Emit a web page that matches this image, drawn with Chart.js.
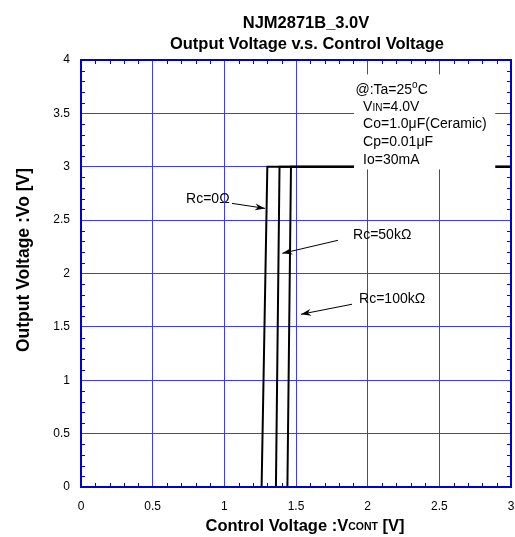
<!DOCTYPE html>
<html>
<head>
<meta charset="utf-8">
<script src="https://cdn.jsdelivr.net/npm/chart.js@4/dist/chart.umd.min.js"></script>
<style>
  body { margin: 0; background: #fff; }
  #wrap { width: 515px; height: 537px; }
</style>
</head>
<body>
<div id="wrap"><canvas id="myChart" width="515" height="537"></canvas></div>
<script>
// curves: Vcont [V] vs Vo [V]
const rc0X = [1.26, 1.30, 3.0];
const rc0Y = [0, 3.0, 3.0];
const rc50X = [1.36, 1.385, 3.0];
const rc50Y = [0, 3.0, 3.0];
const rc100X = [1.44, 1.465, 3.0];
const rc100Y = [0, 3.0, 3.0];

const xTicks = [0, 0.5, 1, 1.5, 2, 2.5, 3];
const yTicks = [0, 0.5, 1, 1.5, 2, 2.5, 3, 3.5, 4];

const FONT = "Arial, 'Liberation Sans', sans-serif";
const GRID = '#3a3aff';
const FRAME = '#0000d0';

function toPoints(xs, ys) {
    return xs.map((x, i) => ({ x: x, y: ys[i] }));
}

function lineSet(label, xs, ys) {
    return {
        label: label,
        data: toPoints(xs, ys),
        showLine: true,
        borderColor: '#000',
        borderWidth: 2,
        pointRadius: 0,
        tension: 0,
    };
}

function arrow(ctx, x1, y1, x2, y2) {
    ctx.save();
    ctx.strokeStyle = '#000';
    ctx.fillStyle = '#000';
    ctx.lineWidth = 1;
    ctx.beginPath();
    ctx.moveTo(x1, y1);
    ctx.lineTo(x2, y2);
    ctx.stroke();
    const a = Math.atan2(y2 - y1, x2 - x1);
    const len = 10, w = 3.5;
    ctx.translate(x2, y2);
    ctx.rotate(a);
    ctx.beginPath();
    ctx.moveTo(0, 0);
    ctx.lineTo(-len, -w);
    ctx.lineTo(-len * 0.7, 0);
    ctx.lineTo(-len, w);
    ctx.closePath();
    ctx.fill();
    ctx.restore();
}

// draw pieces of text one after another, some of them smaller
function pieces(ctx, x, y, parts) {
    let cx = x;
    for (const p of parts) {
        ctx.font = p.font;
        ctx.fillText(p.t, cx, y + (p.dy || 0));
        cx += ctx.measureText(p.t).width;
    }
    return cx;
}

const decor = {
    id: 'decor',
    afterDatasetsDraw(chart) {
        const ctx = chart.ctx;
        const xs = chart.scales.x, ys = chart.scales.y;
        const X = v => xs.getPixelForValue(v);
        const Y = v => ys.getPixelForValue(v);

        // condition box
        ctx.save();
        ctx.fillStyle = '#fff';
        ctx.fillRect(X(1.905), Y(3.865), X(2.89) - X(1.905), Y(2.975) - Y(3.865));
        ctx.fillStyle = '#000';
        ctx.textBaseline = 'middle';
        ctx.textAlign = 'left';
        const f = '14px ' + FONT, fs = '10px ' + FONT;
        pieces(ctx, X(1.915), Y(3.719), [{ t: '@:Ta=25', font: f }, { t: 'o', font: fs, dy: -5 }, { t: 'C', font: f }]);
        pieces(ctx, X(1.968), Y(3.56), [{ t: 'V', font: f }, { t: 'IN', font: fs, dy: 1 }, { t: '=4.0V', font: f }]);
        ctx.font = f;
        ctx.fillText('Co=1.0\u03bcF(Ceramic)', X(1.968), Y(3.40));
        ctx.fillText('Cp=0.01\u03bcF', X(1.968), Y(3.232));
        ctx.fillText('Io=30mA', X(1.968), Y(3.063));

        // curve labels
        ctx.fillText('Rc=0\u03a9', X(0.733), Y(2.70));
        ctx.fillText('Rc=50k\u03a9', X(1.898), Y(2.357));
        ctx.fillText('Rc=100k\u03a9', X(1.94), Y(1.759));
        ctx.restore();

        arrow(ctx, X(1.053), Y(2.657), X(1.284), Y(2.61));
        arrow(ctx, X(1.793), Y(2.311), X(1.405), Y(2.189));
        arrow(ctx, X(1.891), Y(1.712), X(1.535), Y(1.618));
    },
    afterDraw(chart) {
        const ctx = chart.ctx;
        const a = chart.chartArea;
        const xs = chart.scales.x, ys = chart.scales.y;
        ctx.save();

        // minor ticks on all four sides, every 0.1
        ctx.strokeStyle = FRAME;
        ctx.lineWidth = 1;
        ctx.beginPath();
        for (let i = 1; i < 30; i++) {
            if (i % 5 === 0) continue;
            const px = Math.round(xs.getPixelForValue(i / 10)) + 0.5;
            ctx.moveTo(px, a.bottom); ctx.lineTo(px, a.bottom - 4);
            ctx.moveTo(px, a.top); ctx.lineTo(px, a.top + 4);
        }
        for (let i = 1; i < 40; i++) {
            if (i % 5 === 0) continue;
            const py = Math.round(ys.getPixelForValue(i / 10)) + 0.5;
            ctx.moveTo(a.left, py); ctx.lineTo(a.left + 4, py);
            ctx.moveTo(a.right, py); ctx.lineTo(a.right - 4, py);
        }
        ctx.stroke();

        // frame
        ctx.lineWidth = 2;
        ctx.strokeRect(a.left, a.top, a.right - a.left, a.bottom - a.top);

        // titles
        ctx.fillStyle = '#000';
        ctx.textAlign = 'center';
        ctx.textBaseline = 'middle';
        ctx.font = 'bold 16.5px ' + FONT;
        ctx.fillText('NJM2871B_3.0V', 306, 23);
        ctx.fillText('Output Voltage v.s. Control Voltage', 307, 44);

        // x axis title with small "CONT"
        ctx.textAlign = 'left';
        const fb = 'bold 16.5px ' + FONT, fbs = 'bold 10.5px ' + FONT;
        const parts = [{ t: 'Control Voltage :V', font: fb }, { t: 'CONT', font: fbs, dy: 1 }, { t: ' [V]', font: fb }];
        let w = 0;
        for (const p of parts) { ctx.font = p.font; w += ctx.measureText(p.t).width; }
        pieces(ctx, 305 - w / 2, 526, parts);

        // y axis title
        ctx.translate(24, 260);
        ctx.rotate(-Math.PI / 2);
        ctx.textAlign = 'center';
        ctx.font = 'bold 17.5px ' + FONT;
        ctx.fillText('Output Voltage :Vo [V]', 0, 0);
        ctx.restore();
    }
};

const ctx = document.getElementById('myChart');
const myGraph = new Chart(ctx, {
    type: 'scatter',
    data: {
        datasets: [
            lineSet('Rc=0', rc0X, rc0Y),
            lineSet('Rc=50k', rc50X, rc50Y),
            lineSet('Rc=100k', rc100X, rc100Y),
        ]
    },
    options: {
        responsive: false,
        animation: false,
        layout: { padding: { top: 60, right: 4, left: 0, bottom: 0 } },
        plugins: {
            legend: { display: false },
            tooltip: { enabled: false },
        },
        scales: {
            x: {
                type: 'linear',
                min: 0,
                max: 3,
                afterFit(s) { s.height = 50; s.paddingLeft = 0; s.paddingRight = 0; },
                afterBuildTicks(s) { s.ticks = xTicks.map(v => ({ value: v })); },
                ticks: { color: '#000', font: { family: FONT, size: 12 }, padding: 12, maxRotation: 0,
                         callback: v => String(v) },
                grid: { color: GRID, lineWidth: 1, drawTicks: false },
                border: { color: FRAME, width: 2 },
            },
            y: {
                type: 'linear',
                min: 0,
                max: 4,
                afterFit(s) { s.width = 81; s.paddingTop = 0; s.paddingBottom = 0; },
                afterBuildTicks(s) { s.ticks = yTicks.map(v => ({ value: v })); },
                ticks: { color: '#000', font: { family: FONT, size: 12 }, padding: 11,
                         callback: v => String(v) },
                grid: { color: GRID, lineWidth: 1, drawTicks: false },
                border: { color: FRAME, width: 2 },
            }
        }
    },
    plugins: [decor]
});
</script>
</body>
</html>
